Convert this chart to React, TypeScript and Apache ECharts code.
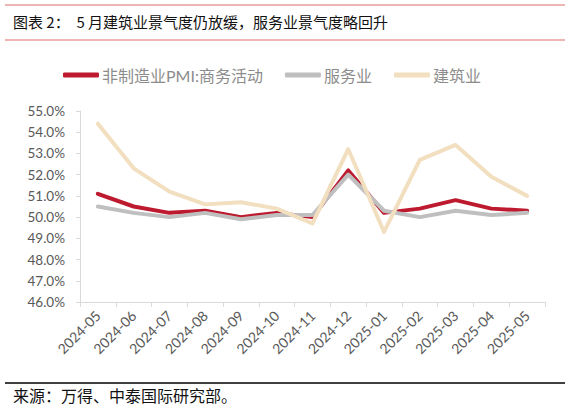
import { useEffect, useRef } from 'react'
import * as echarts from 'echarts'

const months = [
  '2024-05', '2024-06', '2024-07', '2024-08', '2024-09', '2024-10', '2024-11',
  '2024-12', '2025-01', '2025-02', '2025-03', '2025-04', '2025-05',
]

// 非制造业PMI:商务活动
const nonMfg = [51.1, 50.5, 50.2, 50.3, 50.0, 50.2, 50.0, 52.2, 50.2, 50.4, 50.8, 50.4, 50.3]
// 服务业
const services = [50.5, 50.2, 50.0, 50.2, 49.9, 50.1, 50.1, 52.0, 50.3, 50.0, 50.3, 50.1, 50.2]
// 建筑业
const construction = [54.4, 52.3, 51.2, 50.6, 50.7, 50.4, 49.7, 53.2, 49.3, 52.7, 53.4, 51.9, 51.0]

const seriesNames = ['非制造业PMI:商务活动', '服务业', '建筑业']
const seriesColors = ['#bd1a2f', '#bfbfbf', '#f2dfc0']

const titleText = '图表 2：  5 月建筑业景气度仍放缓，服务业景气度略回升'
const sourceText = '来源：万得、中泰国际研究部。'

const latin = "Lato, 'Noto Sans CJK SC', sans-serif"
const cjk = "'Noto Sans CJK SC', sans-serif"

export default function App() {
  const hostRef = useRef<HTMLDivElement | null>(null)

  useEffect(() => {
    const host = hostRef.current
    if (!host) return
    const chart = echarts.init(host, undefined, { renderer: 'svg' })

    chart.setOption({
      animation: false,
      backgroundColor: '#ffffff',
      grid: { left: 80, right: 25, top: 111, bottom: 108, containLabel: false },
      legend: {
        left: 58,
        top: 62,
        icon: 'roundRect',
        itemWidth: 36,
        itemHeight: 5,
        itemGap: 22,
        textStyle: { color: '#8c8c8c', fontSize: 16, fontFamily: latin, padding: [0, 0, 0, -2] },
        data: seriesNames,
      },
      xAxis: {
        type: 'category',
        data: months,
        boundaryGap: true,
        axisLine: { lineStyle: { color: '#d9d9d9', width: 1 } },
        axisTick: { show: true, length: 5, lineStyle: { color: '#d9d9d9' } },
        axisLabel: {
          rotate: 45,
          margin: 11,
          interval: 0,
          color: '#595959',
          fontSize: 14,
          fontFamily: latin,
        },
      },
      yAxis: {
        type: 'value',
        min: 46,
        max: 55,
        interval: 1,
        axisLine: { show: true, lineStyle: { color: '#d9d9d9', width: 1 } },
        axisTick: { show: true, length: 4, lineStyle: { color: '#d9d9d9' } },
        splitLine: { show: false },
        axisLabel: {
          margin: 15,
          color: '#595959',
          fontSize: 13.5,
          fontFamily: latin,
          formatter: (v: number) => `${v.toFixed(1)}%`,
        },
      },
      series: [nonMfg, services, construction].map((data, i) => ({
        name: seriesNames[i],
        type: 'line',
        data,
        showSymbol: false,
        symbol: 'none',
        color: seriesColors[i],
        lineStyle: { width: 4, color: seriesColors[i], cap: 'round', join: 'round' },
      })),
      graphic: [
        {
          type: 'line',
          shape: { x1: 5, y1: 5, x2: 565, y2: 5 },
          style: { stroke: '#e06c6c', lineWidth: 1.2 },
        },
        {
          type: 'text',
          left: 13,
          top: 14,
          style: { text: titleText, fill: '#111111', fontSize: 15, fontFamily: cjk },
        },
        {
          type: 'line',
          shape: { x1: 5, y1: 40, x2: 565, y2: 40 },
          style: { stroke: '#e06c6c', lineWidth: 1.2 },
        },
        {
          type: 'line',
          shape: { x1: 5, y1: 383, x2: 565, y2: 383 },
          style: { stroke: '#000000', lineWidth: 1.5 },
        },
        {
          type: 'text',
          left: 13,
          top: 387,
          style: { text: sourceText, fill: '#111111', fontSize: 16, fontFamily: cjk },
        },
      ],
    })

    return () => {
      chart.dispose()
    }
  }, [])

  return (
    <div
      ref={hostRef}
      style={{ position: 'fixed', left: 0, top: 0, width: 570, height: 410, background: '#fff' }}
    />
  )
}
